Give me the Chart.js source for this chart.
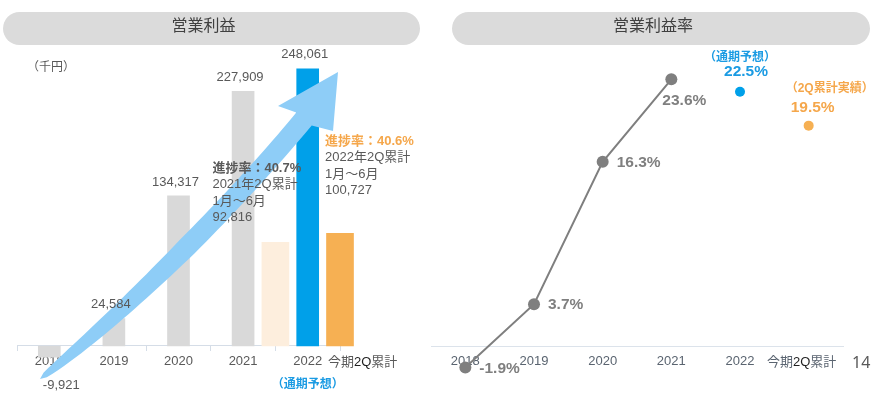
<!DOCTYPE html>
<html lang="ja">
<head>
<meta charset="utf-8">
<title>営業利益・営業利益率</title>
<script src="https://cdn.jsdelivr.net/npm/chart.js@4.4.1/dist/chart.umd.min.js"></script>
<style>
  html, body { margin: 0; padding: 0; background: #fff; }
  body { width: 877px; height: 396px; position: relative; overflow: hidden; }
  canvas { position: absolute; top: 0; }
  #profit { left: 0; }
  #rate { left: 420px; }
  .pill {
    position: absolute; top: 12px; height: 33px; line-height: 33px;
    border-radius: 17px; background: #dbdbdb; color: #404040;
    font: 16px "Noto Sans CJK JP", sans-serif; text-align: center;
    box-sizing: border-box; padding-right: 16px;
  }
  .unit { position: absolute; left: 27px; top: 57px; line-height: 16px; font: 12px "Noto Sans CJK JP", sans-serif; color: #595959; }
  .page { position: absolute; left: 852px; top: 351px; font: 16px "Noto Sans", sans-serif; color: #595959; }
</style>
</head>
<body>
<canvas id="profit" width="420" height="396"></canvas>
<canvas id="rate" width="457" height="396"></canvas>
<div class="pill" style="left:3px;width:417px;">営業利益</div>
<div class="pill" style="left:452px;width:418px;">営業利益率</div>
<div class="unit">（千円）</div>
<div class="page">14</div>
<script>
(function () {
    // 営業利益（千円）
    const years = ['2018', '2019', '2020', '2021', '2022'];
    const profit = [-9921, 24584, 134317, 227909, 248061];
    // 2Q累計（1月～6月）, placed on a hidden boundary axis: slot 4 = 2021, slot 5 = 今期
    const halfSlots = ['', '', '', '', '2021年2Q累計', '今期2Q累計'];
    const halfProfit = [null, null, null, null, 92816, 100727];

    // 営業利益率（%）
    const rateLabels = ['2018', '2019', '2020', '2021', '2022', '今期2Q累計'];
    const rateActual = [-1.9, 3.7, 16.3, 23.6, null, null];
    const rateForecast = [null, null, null, null, 22.5, null];
    const rateHalf = [null, null, null, null, null, 19.5];

    const GRAY = '#d9d9d9', BLUE = '#00a0e9', CREAM = '#fdeedd', ORANGE = '#f6b053';
    const TEXT = '#595959', AXIS = '#d5dde7', ARROW = '#8ecdf7', LINE = '#7f7f7f';
    const BLUE_TXT = '#1b9be3', ORANGE_TXT = '#f5a74b', TICK2 = '#5a6470';

    const FAM = '"Liberation Sans", "Noto Sans CJK JP", sans-serif';
    const F13 = '13px ' + FAM, B13 = 'bold 13px ' + FAM, B12 = 'bold 12px ' + FAM, B15 = 'bold 15.5px ' + FAM;

    const fmt = v => v.toLocaleString('en-US');
    const pct = v => v.toFixed(1) + '%';

    function say(ctx, str, x, y, font, color, align) {
        ctx.save();
        ctx.font = font;
        ctx.fillStyle = color;
        ctx.textAlign = align || 'center';
        ctx.textBaseline = 'middle';
        ctx.fillText(str, x, y);
        ctx.restore();
    }

    function sayParts(ctx, parts, x, y, font, align) {
        ctx.save();
        ctx.font = font;
        ctx.textBaseline = 'middle';
        ctx.textAlign = 'left';
        const w = parts.reduce((s, p) => s + ctx.measureText(p[0]).width, 0);
        let cx = align === 'center' ? x - w / 2 : x;
        parts.forEach(p => {
            ctx.fillStyle = p[1];
            ctx.fillText(p[0], cx, y);
            cx += ctx.measureText(p[0]).width;
        });
        ctx.restore();
    }

    // decorative growth arrow, tapered tail
    function drawArrow(ctx) {
        const P = [[40, 379], [122, 316], [232, 206], [304, 119]];
        const wingA = [333, 131], tip = [338, 72], wingB = [278, 106];
        const a = [], b = [];
        for (let i = 0; i <= 48; i++) {
            const t = i / 48, u = 1 - t;
            const px = u*u*u*P[0][0] + 3*u*u*t*P[1][0] + 3*u*t*t*P[2][0] + t*t*t*P[3][0];
            const py = u*u*u*P[0][1] + 3*u*u*t*P[1][1] + 3*u*t*t*P[2][1] + t*t*t*P[3][1];
            const dx = 3*u*u*(P[1][0]-P[0][0]) + 6*u*t*(P[2][0]-P[1][0]) + 3*t*t*(P[3][0]-P[2][0]);
            const dy = 3*u*u*(P[1][1]-P[0][1]) + 6*u*t*(P[2][1]-P[1][1]) + 3*t*t*(P[3][1]-P[2][1]);
            const len = Math.hypot(dx, dy);
            const nx = -dy / len, ny = dx / len;
            const hw = 10 * Math.pow(Math.min(1, t / 0.55), 0.4);
            a.push([px + nx * hw, py + ny * hw]);
            b.push([px - nx * hw, py - ny * hw]);
        }
        ctx.save();
        ctx.beginPath();
        ctx.moveTo(a[0][0], a[0][1]);
        a.forEach(p => ctx.lineTo(p[0], p[1]));
        ctx.lineTo(wingA[0], wingA[1]);
        ctx.lineTo(tip[0], tip[1]);
        ctx.lineTo(wingB[0], wingB[1]);
        for (let i = b.length - 1; i >= 0; i--) ctx.lineTo(b[i][0], b[i][1]);
        ctx.closePath();
        ctx.fillStyle = ARROW;
        ctx.fill();
        ctx.restore();
    }

    const profitText = {
        id: 'profitText',
        afterDraw(chart) {
            const ctx = chart.ctx;
            const x = chart.scales.x;
            const zeroY = chart.scales.y.getPixelForValue(0);
            drawArrow(ctx);

            chart.getDatasetMeta(0).data.forEach((bar, i) => {
                const v = profit[i];
                if (v < 0) say(ctx, fmt(v), bar.x + 12, bar.y + 28, F13, TEXT);
                else say(ctx, fmt(v), bar.x - 3, bar.y - 14, F13, TEXT);
            });

            const last = x.getPixelForTick(years.length - 1);
            sayParts(ctx, [['今期', TEXT], ['2Q', '#1f1f1f'], ['累計', TEXT]], x.right - 12, zeroY + 16, F13, 'left');
            say(ctx, '（通期予想）', last, zeroY + 39, B12, BLUE_TXT);

            // 進捗率 blocks above the 2Q bars
            const half = chart.getDatasetMeta(1).data;
            const blocks = [
                { i: 4, full: 3, dx: -63, dy: -25, head: TEXT },
                { i: 5, full: 4, dx: -15, dy: -43.5, head: ORANGE_TXT }
            ];
            blocks.forEach(b => {
                const bar = half[b.i];
                const v = halfProfit[b.i];
                const lx = bar.x + b.dx, ly = bar.y + b.dy;
                const rate = (v / profit[b.full] * 100).toFixed(1) + '%';
                say(ctx, '進捗率：' + rate, lx, ly - 49, B13, b.head, 'left');
                say(ctx, years[b.full] + '年2Q累計', lx, ly - 32.5, F13, TEXT, 'left');
                say(ctx, '1月～6月', lx, ly - 16, F13, TEXT, 'left');
                say(ctx, fmt(v), lx, ly, F13, TEXT, 'left');
            });
        }
    };

    new Chart(document.getElementById('profit'), {
        type: 'bar',
        data: {
            labels: years,
            datasets: [{
                data: profit,
                backgroundColor: c => c.dataIndex === years.length - 1 ? BLUE : GRAY,
                barThickness: 22,
                xAxisID: 'x',
                grouped: false
            }, {
                data: halfProfit,
                backgroundColor: c => c.dataIndex === halfProfit.length - 1 ? ORANGE : CREAM,
                barThickness: 27,
                xAxisID: 'x2',
                grouped: false,
                clip: false
            }]
        },
        options: {
            responsive: false,
            animation: false,
            layout: { padding: { left: 17, right: 80, top: 22, bottom: 16.5 } },
            plugins: { legend: { display: false }, tooltip: { enabled: false } },
            scales: {
                x: {
                    position: { y: 0 },
                    z: 1,
                    grid: { drawOnChartArea: false, tickLength: 5, color: AXIS },
                    border: { color: AXIS },
                    ticks: { color: TEXT, font: { family: FAM, size: 13 }, padding: 3, maxRotation: 0 }
                },
                x2: { type: 'category', labels: halfSlots, offset: false, display: false },
                y: { display: false, min: -30000, max: 290000 }
            }
        },
        plugins: [profitText]
    });

    const rateText = {
        id: 'rateText',
        afterDatasetsDraw(chart) {
            const ctx = chart.ctx;
            const x = chart.scales.x;
            const zeroY = chart.scales.y.getPixelForValue(0);
            const top = rateActual.reduce((m, v, i) => (v != null && v > rateActual[m]) ? i : m, 0);
            chart.getDatasetMeta(0).data.forEach((p, i) => {
                const v = rateActual[i];
                if (v == null) return;
                if (i === top) say(ctx, pct(v), p.x - 9, p.y + 21, B15, LINE, 'left');
                else say(ctx, pct(v), p.x + 14, p.y + 1, B15, LINE, 'left');
            });
            const fi = rateForecast.findIndex(v => v != null);
            const f = chart.getDatasetMeta(1).data[fi];
            say(ctx, '（通期予想）', f.x, f.y - 34, B12, BLUE_TXT);
            say(ctx, pct(rateForecast[fi]), f.x + 6, f.y - 20, B15, BLUE_TXT);
            const hi = rateHalf.findIndex(v => v != null);
            const h = chart.getDatasetMeta(2).data[hi];
            say(ctx, '（2Q累計実績）', h.x + 21, h.y - 37, B12, ORANGE_TXT);
            say(ctx, pct(rateHalf[hi]), h.x + 4, h.y - 18, B15, ORANGE_TXT);

            sayParts(ctx, [['今期', TICK2], ['2Q', '#1f1f1f'], ['累計', TICK2]],
                x.getPixelForTick(rateLabels.length - 1) - 7, zeroY + 16, F13, 'center');
        }
    };

    new Chart(document.getElementById('rate'), {
        type: 'line',
        data: {
            labels: rateLabels,
            datasets: [{
                data: rateActual,
                borderColor: LINE,
                borderWidth: 2,
                pointRadius: 6,
                pointBackgroundColor: LINE,
                pointBorderWidth: 0,
                tension: 0
            }, {
                data: rateForecast,
                showLine: false,
                pointRadius: 5,
                pointBackgroundColor: BLUE,
                pointBorderWidth: 0
            }, {
                data: rateHalf,
                showLine: false,
                pointRadius: 5,
                pointBackgroundColor: ORANGE,
                pointBorderWidth: 0
            }]
        },
        options: {
            responsive: false,
            animation: false,
            layout: { padding: { left: 11, right: 34, top: 21.7, bottom: 16.1 } },
            plugins: { legend: { display: false }, tooltip: { enabled: false } },
            scales: {
                x: {
                    offset: true,
                    position: { y: 0 },
                    grid: { display: false, tickLength: 5 },
                    border: { color: '#dce3eb' },
                    ticks: {
                        color: c => c.index === rateLabels.length - 1 ? 'rgba(0,0,0,0)' : TICK2,
                        font: { family: FAM, size: 13 }, padding: 3,
                        autoSkip: false, maxRotation: 0, minRotation: 0
                    }
                },
                y: { display: false, min: -3, max: 28.7 }
            }
        },
        plugins: [rateText]
    });
})();
</script>
</body>
</html>
